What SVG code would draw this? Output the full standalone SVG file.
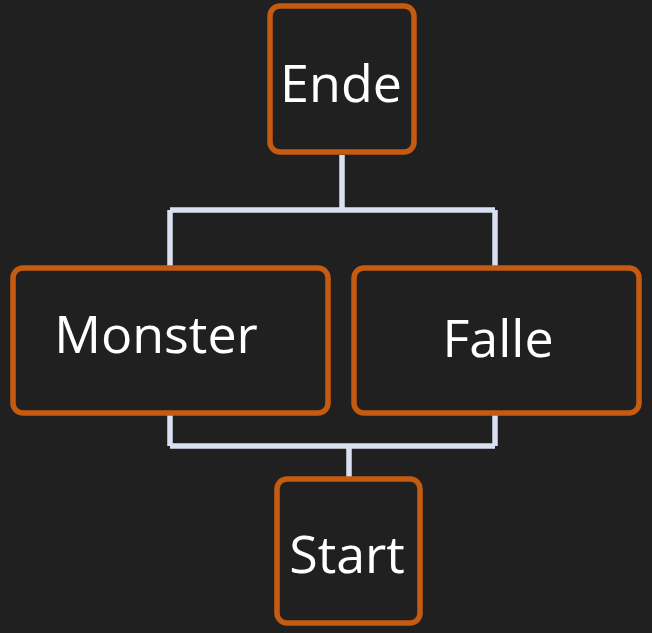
<svg xmlns="http://www.w3.org/2000/svg" width="652" height="633" viewBox="0 0 652 633">
<style>
.box{fill:#202020;stroke:#C55A11;stroke-width:5.5}
.lbl{font-family:"Open Sans","Liberation Sans",sans-serif;font-size:52px;fill:#ffffff;text-anchor:middle}
.conn{fill:none;stroke:#D9E1F0;stroke-width:5.5}
</style>
<rect width="652" height="633" fill="#202020"/>
<g id="connectors">
<path class="conn" d="M342 155 V210 M170 210 H495 M170 210 V267 M495 210 V267"/>
<path class="conn" d="M170 414 V446 M495 414 V446 M170 446 H495 M349 446 V477"/>
</g>
<g id="ende"><rect class="box" x="270" y="6" width="144" height="146" rx="10"/><text class="lbl" x="341" y="102">Ende</text></g>
<g id="monster"><rect class="box" x="13" y="268" width="315" height="145" rx="10"/><text class="lbl" x="156" y="353">Monster</text></g>
<g id="falle"><rect class="box" x="354" y="268" width="285" height="145" rx="10"/><text class="lbl" x="498" y="357">Falle</text></g>
<g id="start"><rect class="box" x="277" y="479" width="143" height="144" rx="10"/><text class="lbl" x="347" y="573">Start</text></g>
</svg>
